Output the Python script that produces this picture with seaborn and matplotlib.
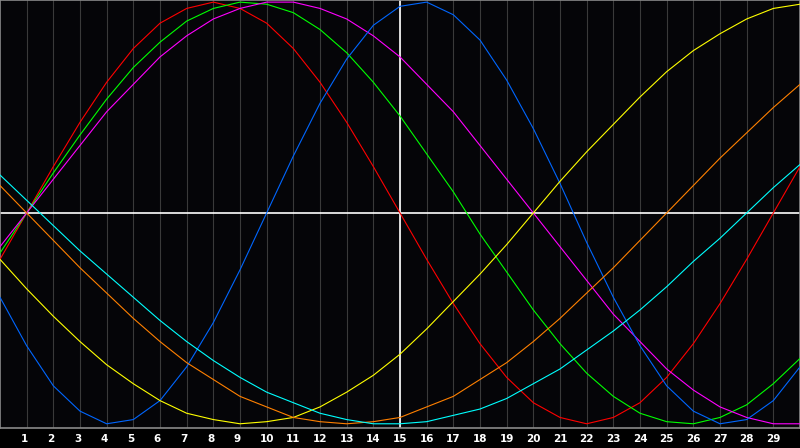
import numpy as np
import pandas as pd
import matplotlib
matplotlib.use("Agg")
import matplotlib.pyplot as plt
import matplotlib.transforms as mtransforms
import seaborn as sns

# Day positions (0..30) and values (percent of amplitude)
days = list(range(0, 31))
tick_days = list(range(1, 30))
tick_labels = [str(d) for d in tick_days]

red = [-22, 0, 22, 43, 62, 78, 90, 97, 100, 97, 90, 78, 62, 43, 22, 0,
       -22, -43, -62, -78, -90, -97, -100, -97, -90, -78, -62, -43, -22, 0, 22]
green = [-19, 0, 19, 37, 54, 69, 81, 91, 97, 100, 99, 95, 87, 76, 62, 46,
         28, 10, -10, -28, -46, -62, -76, -87, -95, -99, -100, -97, -91, -81, -69]
magenta = [-16, 0, 16, 32, 48, 61, 74, 84, 92, 97, 100, 100, 97, 92, 84, 74,
           61, 48, 32, 16, 0, -16, -32, -48, -61, -74, -84, -92, -97, -100, -100]
blue = [-40, -63, -82, -94, -100, -98, -89, -73, -52, -27, 0, 27, 52, 73, 89, 98,
        100, 94, 82, 63, 40, 14, -14, -40, -63, -82, -94, -100, -98, -89, -73]
yellow = [-22, -36, -49, -61, -72, -81, -89, -95, -98, -100, -99, -97, -92, -85, -77, -67,
          -55, -42, -29, -15, 0, 15, 29, 42, 55, 67, 77, 85, 92, 97, 99]
orange = [13, 0, -13, -26, -38, -50, -61, -71, -79, -87, -92, -97, -99, -100, -99, -97,
          -92, -87, -79, -71, -61, -50, -38, -26, -13, 0, 13, 26, 38, 50, 61]
cyan = [18, 6, -6, -18, -29, -40, -51, -61, -70, -78, -85, -90, -95, -98, -100, -100,
        -99, -96, -93, -88, -81, -74, -65, -56, -46, -35, -23, -12, 0, 12, 23]

series = {
    "red": red, "green": green, "magenta": magenta, "blue": blue,
    "yellow": yellow, "orange": orange, "cyan": cyan,
}
palette = {
    "red": "#ff0000", "green": "#00ff00", "magenta": "#ff00ff", "blue": "#0066ff",
    "yellow": "#ffff00", "orange": "#ff8000", "cyan": "#00ffff",
}

rows = []
for name, vals in series.items():
    for d, v in zip(days, vals):
        rows.append({"day": d, "value": v, "cycle": name})
df = pd.DataFrame(rows)

sns.set_theme(style="dark")
plt.rcParams['font.family'] = ['DejaVu Sans']

fig = plt.figure(figsize=(8.0, 4.48), dpi=100, facecolor="black")
ax = fig.add_axes([0, 20 / 448, 1, 428 / 448])
ax.set_facecolor("#050508")

ax.set_xlim(0, 30)
ax.set_ylim(-102, 101)
ax.set_xticks(tick_days)
ax.set_xticklabels(tick_labels, color="white", fontsize=7.5, fontweight="bold")
ax.set_yticks([])
ax.tick_params(axis="x", length=0, pad=4)
ax.grid(axis="x", color="#3a3a3a", linewidth=0.8)
ax.grid(axis="y", visible=False)

# single-digit labels sit a little left of their grid line in the reference
shift = mtransforms.ScaledTranslation(-2.5 / 100, 0, fig.dpi_scale_trans)
for lab in ax.get_xticklabels():
    if len(lab.get_text()) == 1:
        lab.set_transform(lab.get_transform() + shift)

for s in ax.spines.values():
    s.set_color("#8a8a8a")
    s.set_linewidth(1.2)

sns.lineplot(data=df, x="day", y="value", hue="cycle", palette=palette,
             linewidth=0.8, legend=False, ax=ax, zorder=3)

ax.axhline(0, color="white", linewidth=1.2, zorder=2)
ax.axvline(15, color="white", linewidth=1.2, zorder=2)
ax.set_xlabel("")
ax.set_ylabel("")

fig.savefig("out.png", dpi=100, facecolor="black")
